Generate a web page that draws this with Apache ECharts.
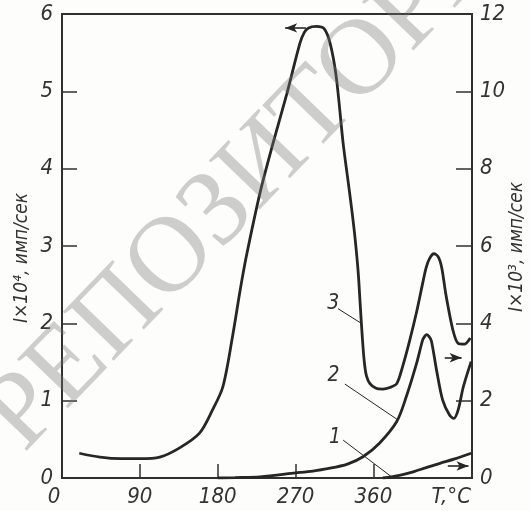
<!DOCTYPE html>
<html>
<head>
<meta charset="utf-8">
<script src="https://cdn.jsdelivr.net/npm/echarts@6/dist/echarts.min.js"></script>
<style>
html,body{margin:0;padding:0;background:#fdfdfb;}
#chart{width:530px;height:511px;}
</style>
</head>
<body>
<div id="chart"></div>
<script>
// Temperature, °C
const temp3 = [20, 44, 68, 90, 113, 136, 159, 174, 186, 197, 206, 213, 229, 244, 260, 275, 280, 285, 294, 303, 310, 317, 325, 330, 335, 339, 342.5, 345, 347, 349.5, 352, 356, 363, 371, 379, 387, 394, 402, 410, 417, 421, 425, 430, 435, 439, 444, 452, 458, 465, 472];
// Curve 3, I×10^4 имп/сек (left axis)
const int3 = [0.32, 0.27, 0.25, 0.25, 0.27, 0.39, 0.58, 0.88, 1.18, 1.82, 2.43, 2.86, 3.69, 4.33, 4.97, 5.62, 5.76, 5.82, 5.84, 5.81, 5.62, 5.19, 4.33, 3.90, 3.47, 3.08, 2.65, 2.20, 1.85, 1.50, 1.32, 1.22, 1.16, 1.15, 1.17, 1.22, 1.45, 1.78, 2.15, 2.52, 2.72, 2.84, 2.90, 2.86, 2.72, 2.36, 1.91, 1.74, 1.73, 1.81];

const temp2 = [180, 200, 229, 270, 290, 307, 330, 348, 367, 387, 398, 410, 417, 419.5, 421.5, 424, 427, 433, 440, 448, 453, 458, 464, 473];
// Curve 2, I×10^3 имп/сек (right axis)
const int2 = [0.00, 0.01, 0.03, 0.13, 0.18, 0.24, 0.36, 0.55, 0.90, 1.46, 2.10, 2.97, 3.57, 3.67, 3.71, 3.67, 3.55, 2.79, 2.02, 1.63, 1.54, 1.76, 2.36, 3.01];

const temp1 = [371, 390, 406, 420, 437, 455, 473];
// Curve 1, I×10^3 имп/сек (right axis)
const int1 = [0.00, 0.07, 0.16, 0.26, 0.38, 0.50, 0.64];

const xTickValues = [90, 180, 270, 360];
const xLabelValues = [0, 90, 180, 270, 360, 450];
const xUnitLabel = 'T,°C';
const leftTitle = 'I×10⁴, имп/сек';
const rightTitle = 'I×10³, имп/сек';
const curveNames = ['1', '2', '3'];

const ink = '#262626';
const axisInk = '#303030';
const font = "'Liberation Sans Narrow','DejaVu Sans Condensed','Roboto Condensed','Liberation Sans',sans-serif";

const zip = (a, b) => a.map((t, i) => [t, b[i]]);

const chart = echarts.init(document.getElementById('chart'), null, {renderer: 'canvas'});

const labelStyle = {color: '#333', fontFamily: font, fontStyle: 'italic', fontSize: 22};
const lineCommon = {type: 'line', showSymbol: false, symbol: 'none', smooth: 0.3,
  lineStyle: {color: ink, width: 2.8}, silent: true};

const leaderStyle = {color: ink, width: 1, type: 'solid'};
const arrowStyle = {color: ink, width: 1.6, type: 'solid'};

chart.setOption({
  animation: false,
  backgroundColor: '#fdfdfb',
  grid: {left: 62, right: 58, top: 14, bottom: 33, containLabel: false, outerBoundsMode: 'none',
    show: true, borderColor: axisInk, borderWidth: 2, backgroundColor: 'transparent'},
  xAxis: {
    type: 'value', min: 0, max: 474, interval: 90,
    splitLine: {show: false},
    axisLine: {show: true, lineStyle: {color: axisInk, width: 2}},
    axisTick: {show: true, inside: true, length: 14, customValues: xTickValues, lineStyle: {color: axisInk, width: 1.5}},
    axisLabel: Object.assign({}, labelStyle, {margin: 8, customValues: xLabelValues,
      formatter: v => (v === 450 ? xUnitLabel : (v === 0 ? '{z|0}' : String(v))),
      rich: {z: {fontFamily: font, fontStyle: 'italic', fontSize: 22, color: '#333', padding: [0, 16, 0, 0]}}})
  },
  yAxis: [
    {type: 'value', min: 0, max: 6, interval: 1, position: 'left',
      splitLine: {show: false},
      axisLine: {show: true, lineStyle: {color: axisInk, width: 2}},
      axisTick: {show: true, inside: true, length: 15, lineStyle: {color: axisInk, width: 1.5}},
      axisLabel: Object.assign({}, labelStyle, {margin: 9})},
    {type: 'value', min: 0, max: 12, interval: 2, position: 'right',
      splitLine: {show: false},
      axisLine: {show: true, lineStyle: {color: axisInk, width: 2}},
      axisTick: {show: true, inside: true, length: 16, lineStyle: {color: axisInk, width: 1.5}},
      axisLabel: Object.assign({}, labelStyle, {margin: 8})}
  ],
  series: [
    Object.assign({}, lineCommon, {
      name: curveNames[2], yAxisIndex: 0, data: zip(temp3, int3),
      markLine: {silent: true, animation: false, label: {show: false},
        data: [
          [{coord: [282, 5.82], symbol: 'none', lineStyle: arrowStyle},
           {coord: [258, 5.82], symbol: 'arrow', symbolSize: [7, 12]}],
          [{coord: [319, 2.19], symbol: 'none', lineStyle: leaderStyle},
           {coord: [346, 2.0], symbol: 'none'}]
        ]},
      markPoint: {silent: true, symbol: 'circle', symbolSize: 0,
        label: Object.assign({}, labelStyle, {show: true, position: 'inside', fontSize: 21, formatter: p => p.name}),
        data: [{name: curveNames[2], coord: [313.5, 2.25]}]}
    }),
    Object.assign({}, lineCommon, {
      name: curveNames[1], yAxisIndex: 1, data: zip(temp2, int2),
      markLine: {silent: true, animation: false, label: {show: false},
        data: [
          [{coord: [442.5, 3.11], symbol: 'none', lineStyle: arrowStyle},
           {coord: [462, 3.11], symbol: 'arrow', symbolSize: [7, 12]}],
          [{coord: [327, 2.43], symbol: 'none', lineStyle: leaderStyle},
           {coord: [388.5, 1.50], symbol: 'none'}]
        ]},
      markPoint: {silent: true, symbol: 'circle', symbolSize: 0,
        label: Object.assign({}, labelStyle, {show: true, position: 'inside', fontSize: 21, formatter: p => p.name}),
        data: [{name: curveNames[1], coord: [314, 2.64]}]}
    }),
    Object.assign({}, lineCommon, {
      name: curveNames[0], yAxisIndex: 1, data: zip(temp1, int1),
      markLine: {silent: true, animation: false, label: {show: false},
        data: [
          [{coord: [446, 0.31], symbol: 'none', lineStyle: arrowStyle},
           {coord: [470, 0.31], symbol: 'arrow', symbolSize: [7, 12]}],
          [{coord: [325, 0.98], symbol: 'none', lineStyle: leaderStyle},
           {coord: [381, 0.03], symbol: 'none'}]
        ]},
      markPoint: {silent: true, symbol: 'circle', symbolSize: 0,
        label: Object.assign({}, labelStyle, {show: true, position: 'inside', fontSize: 21, formatter: p => p.name}),
        data: [{name: curveNames[0], coord: [315.5, 1.05]}]}
    })
  ],
  graphic: [
    {type: 'text', x: 22, y: 258, rotation: Math.PI / 2, silent: true,
      style: {text: leftTitle, fill: '#333', font: 'italic 19px ' + font, align: 'center', verticalAlign: 'middle'}},
    {type: 'text', x: 517, y: 247, rotation: Math.PI / 2, silent: true,
      style: {text: rightTitle, fill: '#333', font: 'italic 19px ' + font, align: 'center', verticalAlign: 'middle'}},
    {type: 'text', x: 272, y: 156, rotation: 46 * Math.PI / 180, silent: true, z: 100,
      style: {text: 'РЕПОЗИТОРИЙ', fill: 'rgba(120,120,120,0.36)', font: '108px "Liberation Serif", "DejaVu Serif", serif',
        align: 'center', verticalAlign: 'middle'}}
  ]
});
</script>
</body>
</html>
